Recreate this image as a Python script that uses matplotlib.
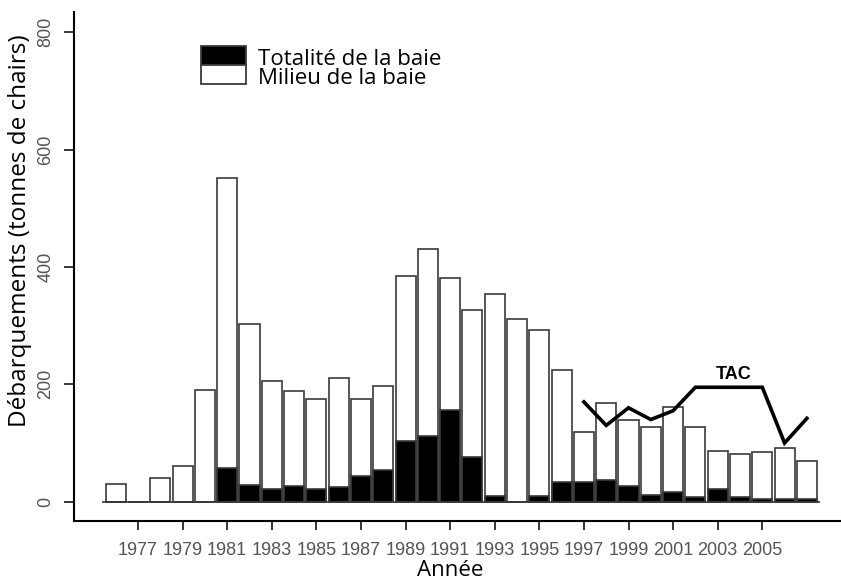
import matplotlib
matplotlib.use("Agg")
import matplotlib.pyplot as plt
from matplotlib.patches import Rectangle

# landings per year, tonnes of meat
years = list(range(1976, 2008))
milieu = [30, 0, 40, 60, 190, 551, 302, 205, 188, 175, 210, 175, 198, 385, 430, 382,
          326, 354, 311, 293, 224, 118, 169, 139, 127, 162, 127, 87, 81, 85, 91, 70]
totalite = [0, 0, 0, 0, 0, 58, 29, 21, 27, 21, 25, 44, 54, 103, 112, 156,
            76, 9, 0, 9, 33, 33, 37, 27, 11, 17, 8, 21, 8, 5, 5, 5]

# total allowable catch
tac_years = [1997, 1998, 1999, 2000, 2001, 2002, 2003, 2004, 2005, 2006, 2007]
tac = [170, 130, 160, 140, 155, 195, 195, 195, 195, 100, 142]

tick_years = list(range(1977, 2006, 2))
legend_labels = ["Totalité de la baie", "Milieu de la baie"]

label_font = ["Open Sans", "DejaVu Sans"]
tick_font = ["Liberation Sans", "DejaVu Sans"]

fig = plt.figure(figsize=(8.41, 5.82), dpi=100)
ax = fig.add_axes([74 / 841, 61.3 / 582, 767 / 841, 508.4 / 582])

edge = "#3a3a3a"
ax.bar(years, milieu, width=0.9, color="white", edgecolor=edge, linewidth=1.2)
ax.bar(years, totalite, width=0.9, color="black", edgecolor=edge, linewidth=1.2)
ax.hlines(0, years[0] - 0.6, years[-1] + 0.6, color=edge, linewidth=1.2)

ax.plot(tac_years, tac, color="black", linewidth=2.6, solid_joinstyle="miter")
ax.text(2003.73, 217, "TAC", ha="center", va="center", fontsize=13,
        fontweight="bold", family=tick_font)

ax.set_xlim(1974.13, 2008.53)
ax.set_ylim(-32.4, 834)
ax.set_xticks(tick_years)
ax.set_xticklabels([str(y) for y in tick_years])
ax.set_yticks([0, 200, 400, 600, 800])

for side in ["top", "right"]:
    ax.spines[side].set_visible(False)
for side in ["left", "bottom"]:
    ax.spines[side].set_linewidth(1.5)

ax.tick_params(axis="x", length=6.5, width=1.1, pad=9, labelsize=13, labelcolor="#555555")
ax.tick_params(axis="y", length=7.2, width=1.1, pad=7, labelsize=13, labelcolor="#555555")
for lab in ax.get_xticklabels() + ax.get_yticklabels():
    lab.set_family(tick_font)
for lab in ax.get_yticklabels():
    lab.set_rotation(90)
    lab.set_va("center")

ax.set_xlabel("Année", fontsize=16, family=label_font, va="top")
ax.xaxis.set_label_coords(0.49, -0.077)
ax.set_ylabel("Débarquements (tonnes de chairs)", fontsize=17.5, family=label_font)
ax.yaxis.set_label_coords(-0.055, 0.57)

# stacked key boxes, black on top of white, labels to the right
key_x, key_w, key_h = 0.1652, 0.0591, 0.0374
for i, (fill, text) in enumerate(zip(["black", "white"], legend_labels)):
    top = 0.9337 - i * key_h
    ax.add_patch(Rectangle((key_x, top - key_h), key_w, key_h, transform=ax.transAxes,
                           facecolor=fill, edgecolor=edge, linewidth=1.3, clip_on=False))
    ax.text(0.2399, top - key_h + 0.001, text, transform=ax.transAxes,
            fontsize=16, family=label_font, va="baseline", ha="left")

fig.savefig("out.png", dpi=100)
